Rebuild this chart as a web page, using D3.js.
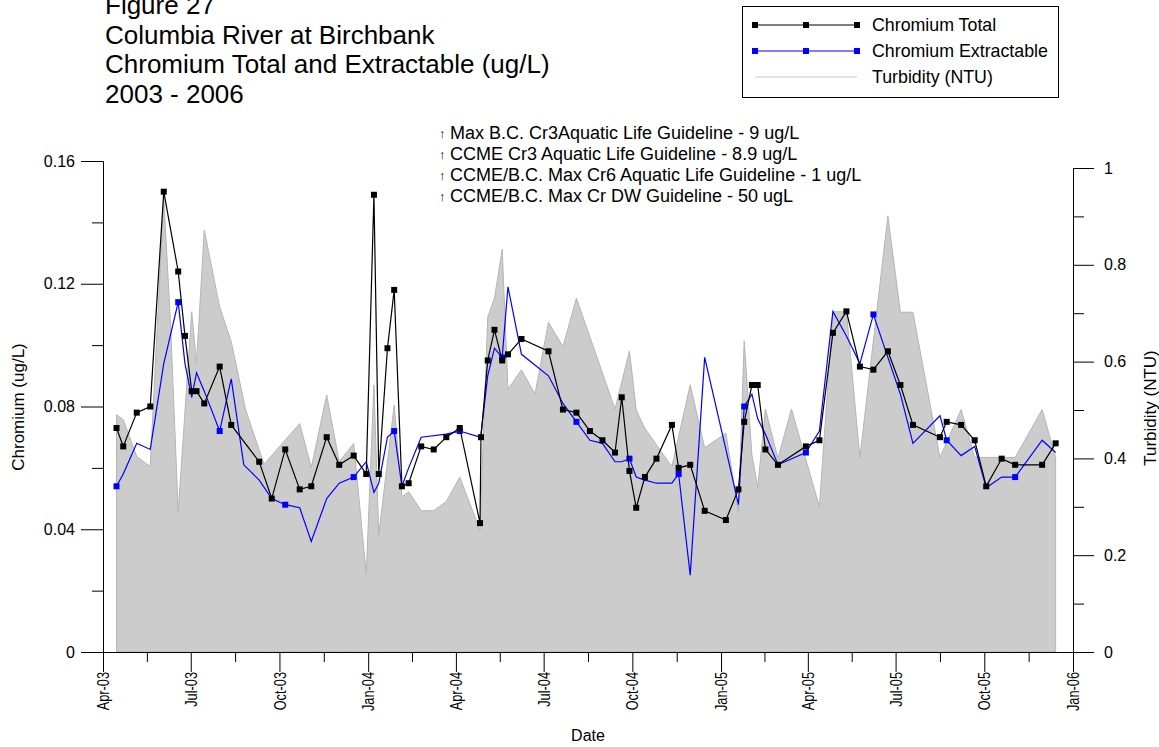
<!DOCTYPE html>
<html lang="en">
<head>
  <meta charset="UTF-8">
  <title>Figure 27</title>
  <script src="https://d3js.org/d3.v7.min.js"></script>
  <style>
    body { margin: 0; background: #fff; }
    text { font-family: "Liberation Sans", Arial, sans-serif; fill: #000; }
  </style>
</head>
<body>
  <div id="chart"></div>

  <script>
    // Chromium Total (ug/L)
    const totalDates = ["2003-04-15","2003-04-22","2003-05-06","2003-05-20","2003-06-03","2003-06-18","2003-06-25","2003-07-02","2003-07-07","2003-07-15",
      "2003-07-31","2003-08-12","2003-09-10","2003-09-23","2003-10-07","2003-10-22","2003-11-03","2003-11-19","2003-12-02","2003-12-17",
      "2003-12-30","2004-01-07","2004-01-12","2004-01-21","2004-01-28","2004-02-05","2004-02-12","2004-02-25","2004-03-09","2004-03-22",
      "2004-04-05","2004-04-26","2004-04-27","2004-05-04","2004-05-11","2004-05-19","2004-05-25","2004-06-08","2004-07-06","2004-07-21",
      "2004-08-04","2004-08-18","2004-08-31","2004-09-13","2004-09-20","2004-09-28","2004-10-05","2004-10-14","2004-10-26","2004-11-11",
      "2004-11-18","2004-11-30","2004-12-15","2005-01-06","2005-01-19","2005-01-25","2005-02-02","2005-02-08","2005-02-16","2005-03-01",
      "2005-03-30","2005-04-13","2005-04-27","2005-05-11","2005-05-25","2005-06-08","2005-06-23","2005-07-06","2005-07-19","2005-08-16",
      "2005-08-23","2005-09-07","2005-09-21","2005-10-03","2005-10-19","2005-11-02","2005-11-30","2005-12-14"];
    const totalValues = [0.073,0.067,0.078,0.080,0.150,0.124,0.103,0.085,0.085,0.081,
      0.093,0.074,0.062,0.050,0.066,0.053,0.054,0.070,0.061,0.064,
      0.058,0.149,0.058,0.099,0.118,0.054,0.055,0.067,0.066,0.070,
      0.073,0.042,0.070,0.095,0.105,0.095,0.097,0.102,0.098,0.079,
      0.078,0.072,0.069,0.065,0.083,0.059,0.047,0.057,0.063,0.074,
      0.060,0.061,0.046,0.043,0.053,0.075,0.087,0.087,0.066,0.061,
      0.067,0.069,0.104,0.111,0.093,0.092,0.098,0.087,0.074,0.070,
      0.075,0.074,0.069,0.054,0.063,0.061,0.061,0.068];

    // Chromium Extractable (ug/L)
    const extractDates = ["2003-04-15","2003-04-22","2003-05-06","2003-05-20","2003-06-03","2003-06-18","2003-06-25","2003-07-02","2003-07-07","2003-07-15",
      "2003-07-31","2003-08-12","2003-08-25","2003-09-10","2003-09-23","2003-10-07","2003-10-22","2003-11-03","2003-11-19","2003-12-02",
      "2003-12-17","2003-12-30","2004-01-07","2004-01-12","2004-01-21","2004-01-28","2004-02-05","2004-02-12","2004-02-25","2004-03-22",
      "2004-04-05","2004-04-26","2004-04-27","2004-05-04","2004-05-11","2004-05-19","2004-05-25","2004-06-08","2004-07-06","2004-07-21",
      "2004-08-04","2004-08-18","2004-08-31","2004-09-13","2004-09-20","2004-09-28","2004-10-05","2004-10-14","2004-10-26","2004-11-11",
      "2004-11-18","2004-11-30","2004-12-15","2005-01-06","2005-01-19","2005-01-25","2005-02-02","2005-02-08","2005-02-16","2005-03-01",
      "2005-03-30","2005-04-13","2005-04-27","2005-05-11","2005-05-25","2005-06-08","2005-06-23","2005-07-06","2005-07-19","2005-08-16",
      "2005-08-23","2005-09-07","2005-09-21","2005-10-03","2005-10-19","2005-11-02","2005-11-30","2005-12-14"];
    const extractValues = [0.054,0.058,0.068,0.066,0.094,0.114,0.094,0.083,0.091,0.085,
      0.072,0.089,0.061,0.056,0.050,0.048,0.047,0.036,0.050,0.055,
      0.057,0.062,0.052,0.055,0.070,0.072,0.054,0.060,0.070,0.071,
      0.072,0.070,0.071,0.090,0.099,0.096,0.119,0.097,0.090,0.081,
      0.075,0.069,0.068,0.062,0.062,0.063,0.057,0.056,0.055,0.055,
      0.058,0.025,0.096,0.066,0.048,0.080,0.084,0.076,0.071,0.061,
      0.065,0.072,0.111,0.103,0.094,0.110,0.096,0.084,0.068,0.077,
      0.069,0.064,0.067,0.0535,0.057,0.057,0.069,0.065];

    // Turbidity (NTU)
    const turbDates = ["2003-04-15","2003-04-22","2003-05-06","2003-05-20","2003-06-03","2003-06-10","2003-06-18","2003-07-02","2003-07-07","2003-07-15",
      "2003-07-31","2003-08-12","2003-08-27","2003-09-15","2003-10-22","2003-11-03","2003-11-19","2003-12-02","2003-12-17","2003-12-30",
      "2004-01-07","2004-01-12","2004-01-28","2004-02-05","2004-02-12","2004-02-25","2004-03-09","2004-03-22","2004-04-05","2004-04-26",
      "2004-05-04","2004-05-11","2004-05-19","2004-05-25","2004-06-08","2004-06-22","2004-07-06","2004-07-21","2004-08-04","2004-09-13",
      "2004-09-28","2004-10-05","2004-10-14","2004-11-11","2004-11-30","2004-12-15","2005-01-06","2005-01-19","2005-01-25","2005-02-02",
      "2005-02-08","2005-02-16","2005-03-01","2005-03-15","2005-04-13","2005-04-27","2005-05-11","2005-05-25","2005-06-23","2005-07-06",
      "2005-07-19","2005-08-16","2005-09-07","2005-09-21","2005-11-02","2005-11-30","2005-12-14"];
    const turbValues = [0.49,0.48,0.404,0.383,0.94,0.68,0.29,0.703,0.597,0.872,
      0.713,0.641,0.50,0.388,0.472,0.381,0.531,0.393,0.431,0.161,
      0.552,0.242,0.510,0.321,0.331,0.292,0.292,0.311,0.361,0.252,
      0.692,0.731,0.832,0.543,0.583,0.533,0.681,0.631,0.731,0.502,
      0.622,0.500,0.462,0.383,0.552,0.422,0.452,0.290,0.643,0.407,
      0.340,0.502,0.400,0.502,0.300,0.703,0.703,0.402,0.901,0.702,
      0.702,0.402,0.501,0.402,0.402,0.501,0.402];

    const leftTicks = [0, 0.04, 0.08, 0.12, 0.16];
    const rightTicks = [0, 0.2, 0.4, 0.6, 0.8, 1];
    const titleLines = ["Figure 27", "Columbia River at Birchbank", "Chromium Total and Extractable (ug/L)", "2003 - 2006"];
    const guidelineNotes = ["Max B.C. Cr3Aquatic Life Guideline - 9 ug/L",
      "CCME Cr3 Aquatic Life Guideline - 8.9 ug/L",
      "CCME/B.C. Max Cr6 Aquatic Life Guideline - 1 ug/L",
      "CCME/B.C. Max Cr DW Guideline - 50 ugL"];
    const legendNames = ["Chromium Total", "Chromium Extractable", "Turbidity (NTU)"];

    const W = 1159, H = 747;
    const plot = {left: 103, right: 1073, bottom: 652, topL: 161, topR: 168};
    const extractSymbolStep = 5;   // symbol on every 5th extractable point
    const parse = d3.timeParse("%Y-%m-%d");

    const total = totalDates.map((d, i) => ({date: parse(d), v: totalValues[i]}));
    const extract = extractDates.map((d, i) => ({date: parse(d), v: extractValues[i]}));
    const turb = turbDates.map((d, i) => ({date: parse(d), v: turbValues[i]}));

    const svg = d3.select("#chart").append("svg")
      .attr("width", W).attr("height", H);

    const x = d3.scaleTime()
      .domain([new Date(2003, 3, 1), new Date(2006, 0, 1)])
      .range([plot.left, plot.right]);
    const yL = d3.scaleLinear().domain([0, 0.16]).range([plot.bottom, plot.topL]);
    const yR = d3.scaleLinear().domain([0, 1]).range([plot.bottom, plot.topR]);

    // turbidity area (right axis)
    svg.append("path")
      .datum(turb)
      .attr("fill", "#cccccc")
      .attr("stroke", "#b5b5b5")
      .attr("stroke-width", 1)
      .attr("d", d3.area().x(d => x(d.date)).y0(yR(0)).y1(d => yR(d.v)));

    // extractable
    const line = d3.line().x(d => x(d.date)).y(d => yL(d.v));
    svg.append("path").datum(extract)
      .attr("fill", "none").attr("stroke", "#0000ff").attr("stroke-width", 1.2)
      .attr("d", line);
    svg.selectAll(".mExt")
      .data(extract.filter((d, i) => i % extractSymbolStep === 0))
      .enter().append("rect")
      .attr("x", d => x(d.date) - 3).attr("y", d => yL(d.v) - 3)
      .attr("width", 6).attr("height", 6).attr("fill", "#0000ff");

    // total
    svg.append("path").datum(total)
      .attr("fill", "none").attr("stroke", "#000").attr("stroke-width", 1.2)
      .attr("d", line);
    svg.selectAll(".mTot")
      .data(total)
      .enter().append("rect")
      .attr("x", d => x(d.date) - 3).attr("y", d => yL(d.v) - 3)
      .attr("width", 6).attr("height", 6).attr("fill", "#000");

    // axes
    const fontSize = "16px";
    const gL = svg.append("g").attr("transform", `translate(${plot.left},0)`);
    gL.call(d3.axisLeft(yL).tickValues(leftTicks).tickSize(22).tickSizeOuter(0).tickPadding(6)
      .tickFormat(d => d === 0 ? "0" : d3.format(".2f")(d)));
    gL.append("g").call(d3.axisLeft(yL).tickValues(d3.pairs(leftTicks).map(p => (p[0] + p[1]) / 2))
      .tickSize(11).tickSizeOuter(0).tickFormat(""));

    const gR = svg.append("g").attr("transform", `translate(${plot.right},0)`);
    gR.call(d3.axisRight(yR).tickValues(rightTicks).tickSize(21).tickSizeOuter(0).tickPadding(10)
      .tickFormat(d => (d === 0 || d === 1) ? String(d) : d3.format(".1f")(d)));
    gR.append("g").call(d3.axisRight(yR).tickValues(d3.pairs(rightTicks).map(p => (p[0] + p[1]) / 2))
      .tickSize(11).tickSizeOuter(0).tickFormat(""));

    svg.selectAll(".tick text").style("font-size", fontSize)
      .style("font-family", '"Liberation Sans", Arial, sans-serif');

    const quarters = d3.timeMonth.every(3).range(new Date(2003, 3, 1), new Date(2006, 0, 2));
    const gB = svg.append("g").attr("transform", `translate(0,${plot.bottom})`);
    gB.call(d3.axisBottom(x).tickValues(quarters).tickSize(20).tickSizeOuter(0)
      .tickFormat(d3.timeFormat("%b-%y")));
    // narrow, rotated date labels
    const sx = 0.8;
    gB.selectAll(".tick text")
      .attr("transform", `rotate(-90) scale(${sx},1)`)
      .attr("x", -20 / sx).attr("y", 0).attr("dy", "0.35em")
      .style("text-anchor", "end")
      .style("font-size", "16px")
      .style("font-family", '"Liberation Sans", Arial, sans-serif');
    gB.append("g").call(d3.axisBottom(x)
      .tickValues(d3.pairs(quarters).map(p => new Date((+p[0] + +p[1]) / 2)))
      .tickSize(10).tickSizeOuter(0).tickFormat(""));

    svg.selectAll(".domain, .tick line").attr("stroke", "#000");

    // axis titles
    svg.append("text").attr("transform", "translate(24,407) rotate(-90)")
      .attr("text-anchor", "middle").style("font-size", "17px").text("Chromium (ug/L)");
    svg.append("text").attr("transform", "translate(1156,408) rotate(-90)")
      .attr("text-anchor", "middle").style("font-size", "17px").text("Turbidity (NTU)");
    svg.append("text").attr("x", 588).attr("y", 741)
      .attr("text-anchor", "middle").style("font-size", fontSize).text("Date");

    // title
    svg.selectAll(".title").data(titleLines).enter().append("text")
      .attr("x", 105).attr("y", (d, i) => 14 + i * 29.7)
      .style("font-size", "26px").text(d => d);

    // guideline notes
    const notes = svg.append("g");
    guidelineNotes.forEach((t, i) => {
      const yy = 139 + i * 21;
      notes.append("text").attr("x", 439).attr("y", yy - 1).style("font-size", "13px").text("↑");
      notes.append("text").attr("x", 450).attr("y", yy).style("font-size", "18px").text(t);
    });

    // legend
    const lg = svg.append("g");
    lg.append("rect").attr("x", 742.5).attr("y", 6.5).attr("width", 316).attr("height", 91)
      .attr("fill", "#fff").attr("stroke", "#000");
    const legendStyle = [
      {stroke: "#000", fill: "#000", marks: true},
      {stroke: "#0000ff", fill: "#0000ff", marks: true},
      {stroke: "#c8c8c8", fill: null, marks: false}
    ];
    legendNames.forEach((name, i) => {
      const yy = 25 + i * 26;
      const st = legendStyle[i];
      lg.append("line").attr("x1", 755).attr("x2", 857).attr("y1", yy).attr("y2", yy)
        .attr("stroke", st.stroke).attr("stroke-width", 1.2);
      if (st.marks) {
        [755, 806, 857].forEach(mx => lg.append("rect")
          .attr("x", mx - 3).attr("y", yy - 3).attr("width", 6).attr("height", 6).attr("fill", st.fill));
      }
      lg.append("text").attr("x", 872).attr("y", yy).attr("dy", "0.35em")
        .style("font-size", "17.8px").text(name);
    });
  </script>
</body>
</html>
